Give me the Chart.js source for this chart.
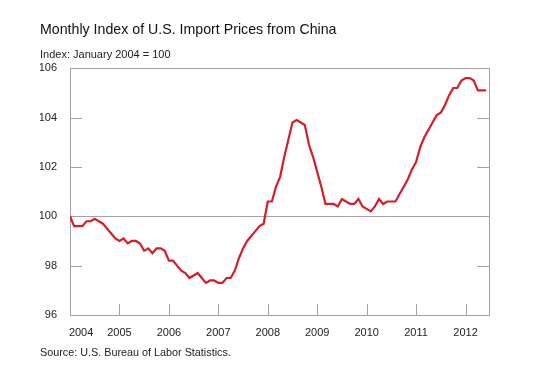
<!DOCTYPE html>
<html>
<head>
<meta charset="utf-8">
<script src="https://cdn.jsdelivr.net/npm/chart.js@4.4.1/dist/chart.umd.min.js"></script>
<style>
  body { margin: 0; background: #fff; }
</style>
</head>
<body>
<canvas id="myChart" width="560" height="390"></canvas>
<script>
// monthly index values, Jan 2004 = 100
const v2004 = [100.0, 99.6, 99.6, 99.6, 99.8, 99.8, 99.9, 99.8, 99.7, 99.5, 99.3, 99.1];
const v2005 = [99.0, 99.1, 98.9, 99.0, 99.0, 98.9, 98.6, 98.7, 98.5, 98.7, 98.7, 98.6];
const v2006 = [98.2, 98.2, 98.0, 97.8, 97.7, 97.5, 97.6, 97.7, 97.5, 97.3, 97.4, 97.4];
const v2007 = [97.3, 97.3, 97.5, 97.5, 97.8, 98.3, 98.7, 99.0, 99.2, 99.4, 99.6, 99.7];
const v2008 = [100.6, 100.6, 101.2, 101.6, 102.4, 103.1, 103.8, 103.9, 103.8, 103.7, 102.9, 102.4];
const v2009 = [101.8, 101.2, 100.5, 100.5, 100.5, 100.4, 100.7, 100.6, 100.5, 100.5, 100.7, 100.4];
const v2010 = [100.3, 100.2, 100.4, 100.7, 100.5, 100.6, 100.6, 100.6, 100.9, 101.2, 101.5, 101.9];
const v2011 = [102.2, 102.8, 103.2, 103.5, 103.8, 104.1, 104.2, 104.5, 104.9, 105.2, 105.2, 105.5];
const v2012 = [105.6, 105.6, 105.5, 105.1, 105.1, 105.1];

const values = [].concat(v2004, v2005, v2006, v2007, v2008, v2009, v2010, v2011, v2012);

const yearLabels = ['2004', '2005', '2006', '2007', '2008', '2009', '2010', '2011', '2012'];
// month index where each year label sits (first one nudged inside the frame)
const yearLabelPos = [2.7, 12, 24, 36, 48, 60, 72, 84, 96];
// month index of the inner tick marks along the bottom
const yearTickPos = [12, 24, 36, 48, 60, 72, 84, 96];
const yTickMarks = [98, 102, 104];

const frameColor = '#a3a3a3';
const textColor = '#222';
const fontFamily = '"Liberation Sans", Arial, sans-serif';

const framePlugin = {
    id: 'frame',
    beforeDatasetsDraw(chart) {
        const { ctx, chartArea: a, scales } = chart;
        ctx.save();
        ctx.strokeStyle = frameColor;
        ctx.lineWidth = 1;
        ctx.strokeRect(Math.round(a.left) + 0.5, Math.round(a.top) + 0.5,
            Math.round(a.right - a.left), Math.round(a.bottom - a.top));
        ctx.beginPath();
        yearTickPos.forEach((m) => {
            const x = Math.round(scales.x.getPixelForValue(m)) + 0.5;
            ctx.moveTo(x, a.bottom);
            ctx.lineTo(x, a.bottom - 11);
        });
        yTickMarks.forEach((v) => {
            const y = Math.round(scales.y.getPixelForValue(v)) + 0.5;
            ctx.moveTo(a.left, y);
            ctx.lineTo(a.left + 12, y);
            ctx.moveTo(a.right, y);
            ctx.lineTo(a.right - 12, y);
        });
        ctx.stroke();
        ctx.restore();
    },
    afterDraw(chart) {
        const ctx = chart.ctx;
        ctx.save();
        ctx.fillStyle = textColor;
        ctx.font = '10.8px ' + fontFamily;
        ctx.textBaseline = 'middle';
        ctx.fillText('Source: U.S. Bureau of Labor Statistics.', 40, 353);
        ctx.restore();
    }
};

const data = {
    datasets: [{
        label: 'Import price index',
        data: values.map((v, i) => ({ x: i, y: v })),
        borderColor: 'rgb(214, 30, 38)',
        borderWidth: 2.2,
        pointRadius: 0,
        tension: 0,
        fill: false
    }]
};

const config = {
    type: 'line',
    data: data,
    options: {
        responsive: false,
        animation: false,
        devicePixelRatio: 1,
        layout: {
            padding: { left: 40, right: 71, top: 0, bottom: 50 }
        },
        plugins: {
            legend: { display: false },
            tooltip: { enabled: false },
            title: {
                display: true,
                text: 'Monthly Index of U.S. Import Prices from China',
                align: 'start',
                color: '#111',
                font: { family: fontFamily, size: 14.2, weight: 'normal' },
                padding: { top: 22, bottom: 6 }
            },
            subtitle: {
                display: true,
                text: 'Index: January 2004 = 100',
                align: 'start',
                color: textColor,
                font: { family: fontFamily, size: 11, weight: 'normal' },
                padding: { top: 3, bottom: 7 }
            }
        },
        scales: {
            x: {
                type: 'linear',
                min: 0,
                max: 101.7,
                afterBuildTicks: (scale) => {
                    scale.ticks = yearLabelPos.map((m) => ({ value: m }));
                },
                afterFit: (scale) => { scale.height = 25; },
                ticks: {
                    autoSkip: false,
                    maxRotation: 0,
                    padding: 11,
                    color: textColor,
                    font: { family: fontFamily, size: 11 },
                    callback: (value, index) => yearLabels[index]
                },
                grid: { display: false, drawTicks: false },
                border: { display: false }
            },
            y: {
                min: 96,
                max: 106,
                afterFit: (scale) => { scale.width = 30; },
                ticks: {
                    stepSize: 2,
                    padding: 13,
                    color: textColor,
                    font: { family: fontFamily, size: 11 }
                },
                grid: {
                    drawTicks: false,
                    lineWidth: 1,
                    color: (ctx) => (ctx.tick && ctx.tick.value === 100 ? frameColor : 'rgba(0,0,0,0)')
                },
                border: { display: false }
            }
        }
    },
    plugins: [framePlugin]
};

var myChart = new Chart(
    document.getElementById('myChart'),
    config
);
</script>
</body>
</html>
